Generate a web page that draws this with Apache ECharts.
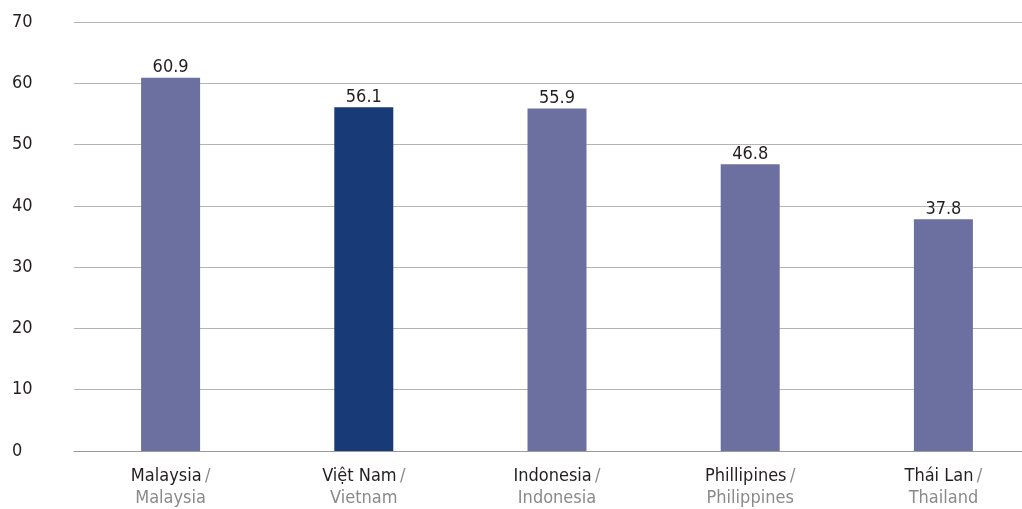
<!DOCTYPE html>
<html>
<head>
<meta charset="utf-8">
<script src="https://cdn.jsdelivr.net/npm/echarts@6/dist/echarts.min.js"></script>
<style>
  html, body { margin: 0; padding: 0; background: #ffffff; overflow: hidden; }
  #wrap { width: 1022px; height: 509px; overflow: hidden; }
  /* plot runs past the right edge; gridlines are cut off by the wrapper */
  #chart { width: 1040px; height: 509px; }
</style>
</head>
<body>
<div id="wrap"><div id="chart"></div></div>
<script>
// Country names: Vietnamese first line, English second line
const namesVi = ['Malaysia', 'Việt Nam', 'Indonesia', 'Phillipines', 'Thái Lan'];
const namesEn = ['Malaysia', 'Vietnam', 'Indonesia', 'Philippines', 'Thailand'];
const values = [60.9, 56.1, 55.9, 46.8, 37.8];
const highlightIndex = 1;
const yTicks = { min: 0, max: 70, interval: 10 };

const FONT = '"Liberation Sans Narrow", "DejaVu Sans Condensed", "Liberation Sans", sans-serif';
const BAR = '#6b70a0';
const BAR_HL = '#183b78';

const categories = namesVi.map((v, i) => v + '|' + namesEn[i]);

const chart = echarts.init(document.getElementById('chart'));
chart.setOption({
  animation: false,
  backgroundColor: '#ffffff',
  grid: { left: 74, right: 0, top: 22, bottom: 58, containLabel: false },
  xAxis: {
    type: 'category',
    data: categories,
    axisTick: { show: false },
    axisLine: { show: true, lineStyle: { color: '#9a9a9a', width: 1 } },
    axisLabel: {
      margin: 14,
      interval: 0,
      formatter: function (v) {
        const p = v.split('|');
        return '{a|' + p[0] + '} {s|/}\n{b|' + p[1] + '}';
      },
      rich: {
        a: { fontFamily: FONT, fontSize: 18, color: '#231f20', lineHeight: 22 },
        s: { fontFamily: FONT, fontSize: 18, color: '#8a8a8a', lineHeight: 22 },
        b: { fontFamily: FONT, fontSize: 18, color: '#8a8a8a', lineHeight: 22 }
      }
    }
  },
  yAxis: {
    type: 'value',
    min: yTicks.min,
    max: yTicks.max,
    interval: yTicks.interval,
    axisLine: { show: false },
    axisTick: { show: false },
    splitLine: { show: true, lineStyle: { color: '#b4b4b4', width: 1 } },
    axisLabel: {
      align: 'left',
      margin: 62,
      fontFamily: FONT,
      fontSize: 18,
      color: '#231f20'
    }
  },
  series: [{
    type: 'bar',
    barWidth: 59,
    data: values.map((v, i) => ({
      value: v,
      itemStyle: { color: i === highlightIndex ? BAR_HL : BAR }
    })),
    label: {
      show: true,
      position: 'top',
      distance: 1,
      fontFamily: FONT,
      fontSize: 18,
      color: '#231f20',
      formatter: p => p.value.toFixed(1)
    }
  }]
});
</script>
</body>
</html>
